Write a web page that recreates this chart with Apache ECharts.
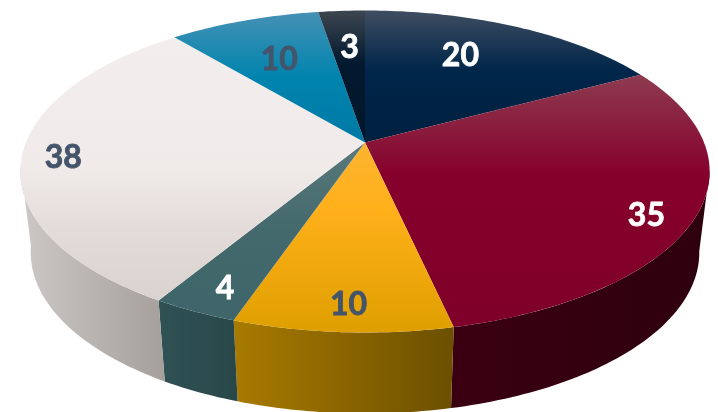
<!DOCTYPE html>
<html>
<head>
<meta charset="utf-8">
<style>html,body{margin:0;padding:0;background:#fff}#chart{width:718px;height:412px}</style>
<script src="https://cdn.jsdelivr.net/npm/echarts@6/dist/echarts.min.js"></script>
</head>
<body>
<div id="chart"></div>
<script>
// Slice values, clockwise from twelve o'clock
const values = [20, 35, 10, 4, 38, 10, 3];
const labelTexts = ['20', '35', '10', '4', '38', '10', '3'];
const labelColors = ['#ffffff', '#ffffff', '#44546a', '#ffffff', '#44546a', '#44546a', '#ffffff'];

// Top face colours per slice, light at the back edge and deeper toward the viewer
const topStops = [
  [[0, '#3f4d61'], [0.45, '#00264a'], [1, '#00203f']],
  [[0, '#8e3b50'], [0.4, '#86002c'], [1, '#7e0029']],
  [[0, '#fcb431'], [0.35, '#ffb01a'], [1, '#df9f00']],
  [[0, '#5a797b'], [0.5, '#43696d'], [1, '#3e6569']],
  [[0, '#f3eeee'], [0.5, '#f0ebe9'], [0.72, '#e4dcd9'], [1, '#d9d2cf']],
  [[0, '#4591b5'], [0.5, '#0084ae'], [1, '#0079a6']],
  [[0, '#3d4650'], [0.4, '#02192f'], [1, '#00172b']]
];
// Rim colours per slice, left to right
const wallStops = [
  [[0, '#001a30'], [1, '#001a30']],
  [[0, '#3a0012'], [1, '#2e000e']],
  [[0, '#a87a00'], [1, '#6c5000']],
  [[0, '#2f5254'], [1, '#294749']],
  [[0, '#cdc8c5'], [1, '#a6a09c']],
  [[0, '#005a78'], [1, '#005a78']],
  [[0, '#001020'], [1, '#001020']]
];
// Label placement: reach along the slice's middle (0 centre, 1 rim) plus a small pixel nudge
const labelReach = [0.744, 0.84, 0.867, 0.877, 0.885, 0.662, 0.712];
const labelNudge = [[-22, 2], [4, 17], [3, 2], [6, 2], [1, 6], [-1, 2], [2, 3]];

// Perspective view of the disc
const view = { cx: 365, cy: 142.5, a: 339, b: 155.8, k: 0.18, depth: 81, taper: 0.97 };
// Angular span of the rim that faces the viewer, up to the disc's left and right extremes
const rimSpan = [98.4, 259.5];

const total = values.reduce((s, v) => s + v, 0);
const starts = values.map((_, i) => values.slice(0, i).reduce((s, v) => s + v, 0) / total * 360);
const ends = values.map((v, i) => starts[i] + v / total * 360);

const rad = d => d * Math.PI / 180;
// Degrees clockwise from the back, radial reach r, to canvas pixels
function project(deg, r) {
  const t = deg + 1.6 * (1 - Math.cos(rad(deg))) + 1.2 * Math.sin(rad(2 * deg));
  const u = r * Math.sin(rad(t));
  const v = -r * Math.cos(rad(t));
  const d = 1 - view.k * v;
  return [view.cx + view.a * u / d, view.cy + view.b * v / d];
}
function lowered(p) {
  return [view.cx + (p[0] - view.cx) * view.taper, p[1] + view.depth];
}
function arc(from, to) {
  const n = Math.max(2, Math.ceil(to - from));
  const pts = [];
  for (let i = 0; i <= n; i++) pts.push(project(from + (to - from) * i / n, 1));
  return pts;
}
function gradient(stops, horizontal) {
  return {
    type: 'linear', x: 0, y: 0, x2: horizontal ? 1 : 0, y2: horizontal ? 0 : 1,
    colorStops: stops.map(s => ({ offset: s[0], color: s[1] }))
  };
}

function renderWall(params) {
  const i = params.dataIndex;
  const from = Math.max(starts[i], rimSpan[0]);
  const to = Math.min(ends[i], rimSpan[1]);
  if (to <= from) return { type: 'group', children: [] };
  const rim = arc(from, to);
  const points = rim.concat(rim.map(lowered).reverse());
  return {
    type: 'polygon', shape: { points },
    style: { fill: gradient(wallStops[i], true) }
  };
}
function renderTop(params) {
  const i = params.dataIndex;
  const points = [[view.cx, view.cy]].concat(arc(starts[i], ends[i]));
  return {
    type: 'polygon', shape: { points },
    style: { fill: gradient(topStops[i], false) }
  };
}
function renderLabel(params) {
  const i = params.dataIndex;
  const p = project((starts[i] + ends[i]) / 2, labelReach[i]);
  return {
    type: 'text',
    style: {
      x: p[0] + labelNudge[i][0], y: p[1] + labelNudge[i][1],
      text: labelTexts[i], fill: labelColors[i],
      stroke: labelColors[i], lineWidth: 0.8,
      font: 'bold 32px Lato', align: 'center', verticalAlign: 'middle'
    }
  };
}

const chart = echarts.init(document.getElementById('chart'));
chart.setOption({
  animation: false,
  backgroundColor: '#ffffff',
  series: [
    { type: 'custom', coordinateSystem: 'none', data: values, renderItem: renderWall, z: 1, silent: true },
    { type: 'custom', coordinateSystem: 'none', data: values, renderItem: renderTop, z: 2, silent: true },
    { type: 'custom', coordinateSystem: 'none', data: values, renderItem: renderLabel, z: 3, silent: true }
  ]
});
</script>
</body>
</html>
